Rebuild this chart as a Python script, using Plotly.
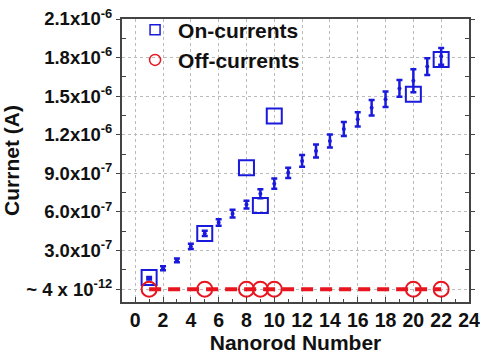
import plotly.graph_objects as go

# On-currents (large open squares)
on_x = [1, 5, 8, 9, 10, 20, 22]
on_y = [0.90e-7, 4.33e-7, 9.43e-7, 6.50e-7, 1.345e-6, 1.515e-6, 1.786e-6]

# Off-currents (open circles, ~4e-12 A)
off_x = [1, 5, 8, 9, 10, 20, 22]
off_y = [4e-12] * 7

# Average trend with error bars
avg_x = list(range(1, 23))
avg_y = [0.85e-7, 1.62e-7, 2.24e-7, 3.32e-7, 4.33e-7, 5.18e-7, 5.87e-7, 6.57e-7,
         7.42e-7, 8.20e-7, 9.04e-7, 9.97e-7, 1.074e-6, 1.152e-6, 1.245e-6, 1.32e-6,
         1.41e-6, 1.476e-6, 1.56e-6, 1.62e-6, 1.73e-6, 1.81e-6]
avg_err = [1.0e-8, 1.5e-8, 1.5e-8, 2.0e-8, 2.0e-8, 2.5e-8, 3.0e-8, 3.0e-8,
           3.5e-8, 4.0e-8, 4.0e-8, 4.5e-8, 5.0e-8, 5.0e-8, 5.5e-8, 5.5e-8,
           6.0e-8, 6.0e-8, 6.5e-8, 9.0e-8, 6.5e-8, 6.5e-8]

y_tickvals = [0, 3e-7, 6e-7, 9e-7, 1.2e-6, 1.5e-6, 1.8e-6, 2.1e-6]
y_ticktext = ["~ 4 x 10<sup>-12</sup>", "3.0x10<sup>-7</sup>", "6.0x10<sup>-7</sup>",
              "9.0x10<sup>-7</sup>", "1.2x10<sup>-6</sup>", "1.5x10<sup>-6</sup>",
              "1.8x10<sup>-6</sup>", "2.1x10<sup>-6</sup>"]
x_tickvals = list(range(0, 25, 2))

BLUE = "#1a1adc"
RED = "#e8141e"

fig = go.Figure()
fig.add_trace(go.Scatter(
    x=avg_x, y=avg_y, mode="markers", showlegend=False,
    marker=dict(color=BLUE, size=4),
    error_y=dict(type="data", array=avg_err, color=BLUE, thickness=2.5, width=3),
))
fig.add_trace(go.Scatter(
    x=off_x, y=off_y, mode="lines", showlegend=False,
    line=dict(color=RED, width=4, dash="12px,7px"),
))
fig.add_trace(go.Scatter(
    x=on_x, y=on_y, mode="markers", showlegend=False,
    marker=dict(symbol="square-open", color=BLUE, size=15, line=dict(width=2)),
))
fig.add_trace(go.Scatter(
    x=off_x, y=off_y, mode="markers", showlegend=False,
    marker=dict(symbol="circle-open", color=RED, size=15, line=dict(width=2)),
))
# legend entries with smaller symbols
fig.add_trace(go.Scatter(
    x=[None], y=[None], mode="markers", name="On-currents",
    marker=dict(symbol="square-open", color=BLUE, size=10, line=dict(width=1.5)),
))
fig.add_trace(go.Scatter(
    x=[None], y=[None], mode="markers", name="Off-currents",
    marker=dict(symbol="circle-open", color=RED, size=11, line=dict(width=1.5)),
))

def F(size):
    return dict(family="Liberation Sans, Arial, sans-serif", color="#111",
                size=size, weight="bold")

fig.update_layout(
    width=480, height=356,
    margin=dict(l=122, r=11, t=18, b=54),
    paper_bgcolor="white", plot_bgcolor="white",
    font=F(15),
    showlegend=True,
    legend=dict(x=0.029, y=1.03, xanchor="left", yanchor="top",
                bgcolor="rgba(0,0,0,0)", font=F(21),
                itemsizing="trace", tracegroupgap=0, itemwidth=36),
    xaxis=dict(
        range=[-0.95, 24.001], tickvals=x_tickvals,
        ticktext=[str(v) for v in x_tickvals],
        tickfont=F(19.5), automargin=False, ticklabeloverflow="allow",
        showline=True, linecolor="#444", linewidth=2, mirror=True,
        ticks="inside", ticklen=5, tickcolor="#444",
        minor=dict(dtick=1, tick0=0, ticks="inside", ticklen=3, tickcolor="#444", showgrid=False),
        showgrid=True, gridcolor="#bbbbbb", griddash="dot", gridwidth=1,
        zeroline=False,
        title=dict(text="Nanorod Number", font=F(21), standoff=0),
    ),
    yaxis=dict(
        range=[-1.0e-7, 2.1e-6], tickvals=y_tickvals,
        ticktext=y_ticktext,
        tickfont=F(18.5), automargin=False, ticklabeloverflow="allow",
        showline=True, linecolor="#444", linewidth=2, mirror="ticks",
        ticks="outside", ticklen=4, tickcolor="#444",
        minor=dict(tickvals=[1.5e-7, 4.5e-7, 7.5e-7, 1.05e-6, 1.35e-6, 1.65e-6, 1.95e-6],
                   ticks="inside", ticklen=4, tickcolor="#444", showgrid=False),
        showgrid=True, gridcolor="#bbbbbb", griddash="dot", gridwidth=1,
        zeroline=False,
        title=dict(text="Currnet (A)", font=F(21), standoff=2),
    ),
)
fig.write_html("out.html")
